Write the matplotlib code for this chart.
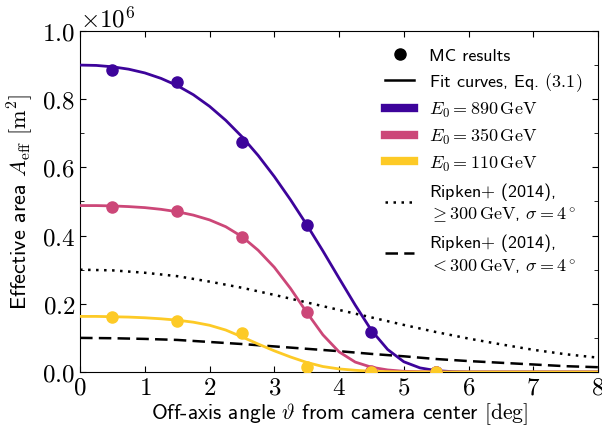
import numpy as np
import matplotlib
matplotlib.use("Agg")
import matplotlib.pyplot as plt
from matplotlib.lines import Line2D
from matplotlib.ticker import MultipleLocator

plt.rcParams['font.family'] = 'cmr10'
plt.rcParams['mathtext.fontset'] = 'cm'
plt.rcParams['axes.formatter.use_mathtext'] = True

SCALE = 1e6  # values below are in units of 10^6 m^2

# ── MC results ──
mc_theta = [0.5, 1.5, 2.5, 3.5, 4.5, 5.5]
mc_890 = [0.886, 0.851, 0.674, 0.431, 0.116, 0.0]
mc_350 = [0.485, 0.473, 0.397, 0.175, 0.003, 0.0]
mc_110 = [0.161, 0.149, 0.114, 0.015, 0.0, 0.0]

# ── Fit curves ──
fit_theta = [0.0, 0.25, 0.5, 0.75, 1.0, 1.25, 1.5, 1.75, 2.0, 2.25, 2.5, 2.75,
             3.0, 3.25, 3.5, 3.75, 4.0, 4.25, 4.5, 4.75, 5.0, 5.25, 5.5, 5.75,
             6.0, 6.5, 7.0, 7.5, 8.0]
fit_890 = [0.900, 0.899, 0.895, 0.888, 0.877, 0.861, 0.840, 0.813, 0.779, 0.738,
           0.690, 0.635, 0.573, 0.505, 0.432, 0.355, 0.275, 0.196, 0.122, 0.066,
           0.030, 0.012, 0.004, 0.001, 0.0, 0.0, 0.0, 0.0, 0.0]
fit_350 = [0.488, 0.488, 0.487, 0.485, 0.482, 0.477, 0.470, 0.460, 0.446, 0.426,
           0.397, 0.357, 0.307, 0.245, 0.175, 0.109, 0.059, 0.029, 0.014, 0.006,
           0.002, 0.001, 0.0, 0.0, 0.0, 0.0, 0.0, 0.0, 0.0]
fit_110 = [0.163, 0.163, 0.162, 0.161, 0.159, 0.156, 0.152, 0.146, 0.137, 0.123,
           0.103, 0.082, 0.062, 0.044, 0.028, 0.016, 0.009, 0.005, 0.002, 0.001,
           0.0, 0.0, 0.0, 0.0, 0.0, 0.0, 0.0, 0.0, 0.0]

# ── Ripken+ (2014) curves ──
rip_theta = [0.0, 0.5, 1.0, 1.5, 2.0, 2.5, 3.0, 3.5, 4.0, 4.5, 5.0, 5.5,
             6.0, 6.5, 7.0, 7.5, 8.0]
rip_high = [0.300, 0.298, 0.291, 0.281, 0.265, 0.247, 0.226, 0.204, 0.182,
            0.160, 0.138, 0.117, 0.098, 0.081, 0.065, 0.052, 0.042]
rip_low = [0.100, 0.099, 0.097, 0.094, 0.088, 0.082, 0.075, 0.068, 0.061,
           0.053, 0.046, 0.038, 0.032, 0.027, 0.022, 0.017, 0.014]

energies = ['890', '350', '110']
colors = ['#3d049b', '#cc4778', '#fdca26']
fits = [fit_890, fit_350, fit_110]
mcs = [mc_890, mc_350, mc_110]

fig = plt.figure(figsize=(6.02, 4.27), dpi=100)
ax = fig.add_axes([0.133, 0.1265, 0.8605, 0.7986])

sc = lambda v: np.asarray(v) * SCALE

dotted = (0, (1, 2.2))
dashed = (0, (5, 2.5))
ax.plot(rip_theta, sc(rip_high), color='black', linestyle=dotted, lw=1.8, zorder=2)
ax.plot(rip_theta, sc(rip_low), color='black', linestyle=dashed, lw=1.8, zorder=2)

for fit, mc, c in zip(fits, mcs, colors):
    ax.plot(fit_theta, sc(fit), color=c, lw=2, zorder=3)
    ax.plot(mc_theta, sc(mc), 'o', color=c, markersize=8, zorder=4)

ax.set_xlim(0, 8)
ax.set_ylim(0, 1.0 * SCALE)
ax.xaxis.set_major_locator(MultipleLocator(1))
ax.yaxis.set_major_locator(MultipleLocator(0.2 * SCALE))
ax.yaxis.set_minor_locator(MultipleLocator(0.1 * SCALE))
ax.tick_params(which='both', direction='in', top=True, right=True, labelsize=18)
ax.tick_params(which='major', length=4)
ax.tick_params(which='minor', length=3)
ax.yaxis.get_offset_text().set_fontsize(18)

ax.set_xlabel(r'Off-axis angle $\vartheta$ from camera center $[\mathrm{deg}]$',
              fontfamily='cmss10', fontsize=15.5, labelpad=1)
ax.set_ylabel(r'Effective area $A_\mathrm{eff}$ $[\mathrm{m}^2]$',
              fontfamily='cmss10', fontsize=16, labelpad=5)

# ── Legend ──
handles = [
    Line2D([], [], marker='o', color='black', linestyle='none', markersize=8),
    Line2D([], [], color='black', lw=1.8),
]
labels = ['MC results', r'Fit curves, Eq. $(3.1)$']
for e, c in zip(energies, colors):
    handles.append(Line2D([], [], color=c, lw=6))
    labels.append(r'$E_0 = %s\,\mathrm{GeV}$' % e)
handles.append(Line2D([], [], color='black', linestyle=dotted, lw=1.8))
labels.append('Ripken$+$ (2014),\n' + r'$\geq 300\,\mathrm{GeV}$, $\sigma = 4^\circ$')
handles.append(Line2D([], [], color='black', linestyle=dashed, lw=1.8))
labels.append('Ripken$+$ (2014),\n' + r'$< 300\,\mathrm{GeV}$, $\sigma = 4^\circ$')

ax.legend(handles, labels, loc='upper right', frameon=False,
          prop={'family': 'cmss10', 'size': 13}, handlelength=1.6,
          handletextpad=0.8, labelspacing=0.4)

fig.savefig('out.png', dpi=100)
